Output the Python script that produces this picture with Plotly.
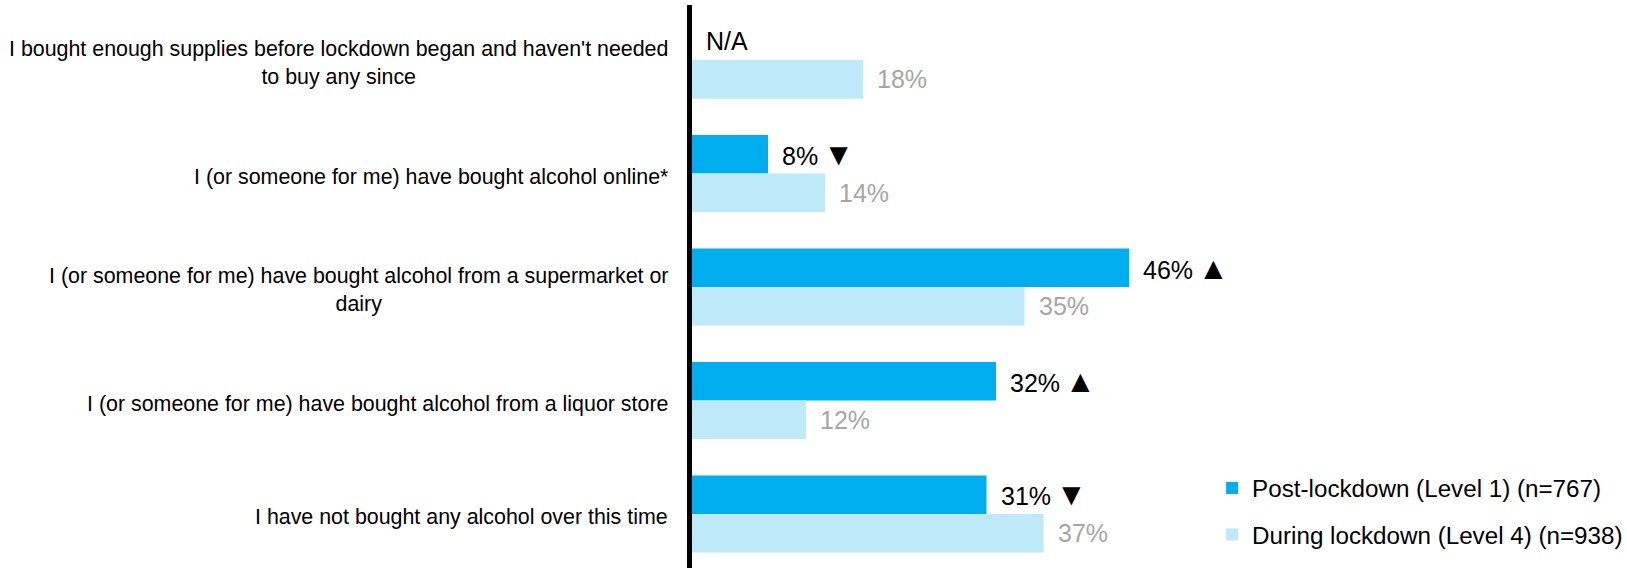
import plotly.graph_objects as go

categories = [
    "I bought enough supplies before lockdown began and haven't needed<br>to buy any since",
    "I (or someone for me) have bought alcohol online*",
    "I (or someone for me) have bought alcohol from a supermarket or<br>dairy",
    "I (or someone for me) have bought alcohol from a liquor store",
    "I have not bought any alcohol over this time",
]
post_values = [None, 8, 46, 32, 31]
post_markers = ["N/A", "▼", "▲", "▲", "▼"]
during_values = [18, 14, 35, 12, 37]
series_names = ["Post-lockdown (Level 1) (n=767)", "During lockdown (Level 4) (n=938)"]

DARK = "#00ADEF"
LIGHT = "#BDE9F8"
FONT = "Arial, Liberation Sans, sans-serif"

fig = go.Figure()
fig.add_trace(go.Bar(
    y=categories, x=post_values, orientation="h", name=series_names[0],
    marker=dict(color=DARK, line=dict(width=0)), legendgroup="a",
))
fig.add_trace(go.Bar(
    y=categories, x=during_values, orientation="h", name=series_names[1],
    marker=dict(color=LIGHT, line=dict(width=0)), legendgroup="b",
))

annotations = []
for cat in categories:
    annotations.append(dict(
        x=0, xref="paper", y=cat, yref="y", text=cat, showarrow=False,
        xanchor="right", yanchor="middle", align="center", xshift=-22, yshift=-3,
        font=dict(family=FONT, size=21.4, color="#000000"),
    ))
for cat, v, m in zip(categories, post_values, post_markers):
    if v is None:
        txt, xv = m, 0
    else:
        txt, xv = f"{v}%\u2009<span style='font-size:31px'>{m}</span>", v
    annotations.append(dict(
        x=xv, xref="x", y=cat, yref="y", text=txt, showarrow=False,
        xanchor="left", yanchor="middle", xshift=12, yshift=19,
        font=dict(family=FONT, size=25, color="#000000"),
    ))
for cat, v in zip(categories, during_values):
    annotations.append(dict(
        x=v, xref="x", y=cat, yref="y", text=f"{v}%", showarrow=False,
        xanchor="left", yanchor="middle", xshift=12, yshift=-19,
        font=dict(family=FONT, size=25, color="#A6A6A6"),
    ))

fig.update_layout(
    width=1627, height=568,
    margin=dict(l=692, r=460, t=5, b=0, pad=0),
    barmode="group", bargap=0.32, bargroupgap=0,
    plot_bgcolor="white", paper_bgcolor="white",
    font=dict(family=FONT, color="#000000"),
    annotations=annotations,
    legend=dict(
        xref="container", yref="container", x=0.745, y=0.18,
        xanchor="left", yanchor="top",
        font=dict(family=FONT, size=24.2, color="#000000"),
        tracegroupgap=12, traceorder="grouped",
        bgcolor="rgba(0,0,0,0)",
    ),
)
fig.update_xaxes(range=[0, 50], visible=False, showgrid=False, zeroline=False)
fig.update_yaxes(
    type="category", range=[4.476, -0.485], showticklabels=False,
    showgrid=False, zeroline=False, showline=True, linewidth=5, linecolor="#000000",
    ticks="",
)

fig.write_html(
    "out.html",
    config={"displayModeBar": False},
    post_script="document.body.style.margin='0';document.body.style.overflow='hidden';",
)
